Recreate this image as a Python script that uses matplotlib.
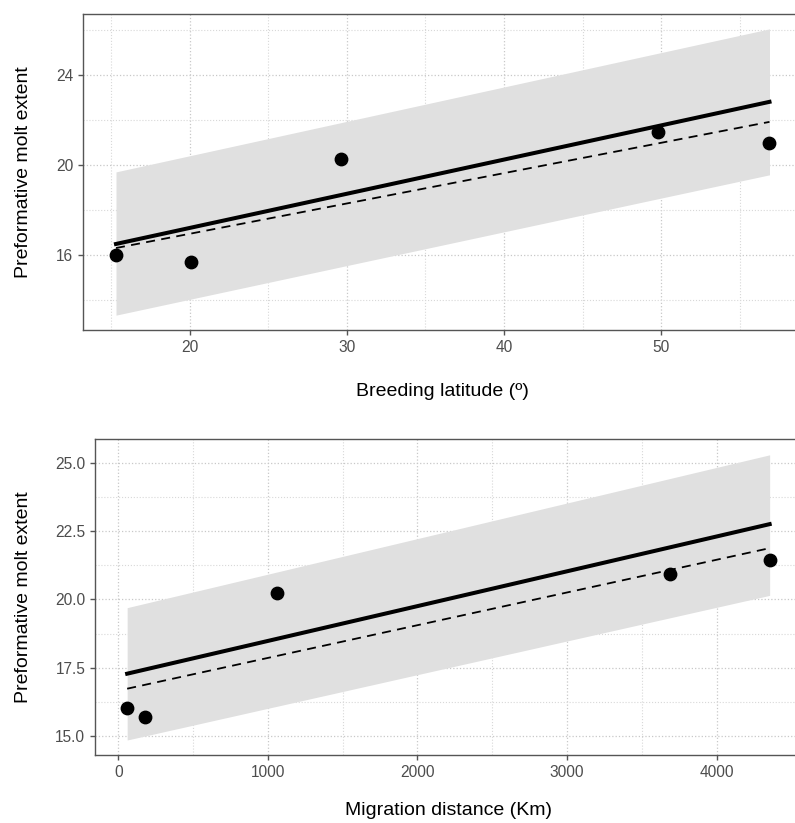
import matplotlib.pyplot as plt
import numpy as np

plt.rcParams['font.family'] = ['Liberation Sans', 'DejaVu Sans']

# breeding latitude panel
lat = [15.3, 20.1, 29.6, 49.8, 56.9]
lat_molt = [16.0, 15.69, 20.27, 21.47, 20.98]
lat_fit_x = [15.3, 56.9]
lat_solid = [16.49, 22.80]
lat_dashed = [16.31, 21.91]
lat_band_lo = [13.33, 19.56]
lat_band_hi = [19.69, 26.04]

# migration distance panel
dist = [60, 180, 1063, 3692, 4355]
dist_molt = [16.03, 15.70, 20.22, 20.95, 21.43]
dist_fit_x = [60, 4355]
dist_solid = [17.28, 22.76]
dist_dashed = [16.73, 21.88]
dist_band_lo = [14.85, 20.15]
dist_band_hi = [19.70, 25.30]

fig = plt.figure(figsize=(7.95, 8.23), dpi=100)
ax1 = fig.add_axes([0.1044, 0.599, 0.905, 0.384])
ax2 = fig.add_axes([0.1195, 0.0826, 0.890, 0.384])


def style(ax):
    ax.set_facecolor('white')
    for s in ax.spines.values():
        s.set_color('#555555')
        s.set_linewidth(1.0)
    ax.grid(which='major', color='#c8c8c8', linestyle=':', linewidth=0.9)
    ax.grid(which='minor', color='#d8d8d8', linestyle=':', linewidth=0.8)
    ax.set_axisbelow(True)
    ax.tick_params(which='major', colors='#555555', labelcolor='#4d4d4d',
                   labelsize=11.2, length=3.5, width=1)
    ax.tick_params(which='minor', length=0)


def panel(ax, x, y, fx, solid, dashed, lo, hi):
    ax.fill_between(fx, lo, hi, color='#e0e0e0', linewidth=0, zorder=1)
    ax.plot(fx, solid, color='black', linewidth=2.9, zorder=3)
    ax.plot(fx, dashed, color='black', linewidth=1.3, linestyle=(0, (5, 3.5)), zorder=3)
    ax.scatter(x, y, s=80, color='black', zorder=4)


panel(ax1, lat, lat_molt, lat_fit_x, lat_solid, lat_dashed, lat_band_lo, lat_band_hi)
style(ax1)
ax1.set_xlim(13.2, 59.0)
ax1.set_ylim(12.67, 26.7)
ax1.set_xticks([20, 30, 40, 50])
ax1.set_xticks([15, 25, 35, 45, 55], minor=True)
ax1.set_yticks([16, 20, 24])
ax1.set_yticks([14, 18, 22, 26], minor=True)
ax1.set_ylabel('Preformative molt extent', fontsize=14)
ax1.set_xlabel('Breeding latitude (º)', fontsize=14)
ax1.yaxis.set_label_coords(-0.071, 0.5)
ax1.xaxis.set_label_coords(0.5, -0.168)

panel(ax2, dist, dist_molt, dist_fit_x, dist_solid, dist_dashed, dist_band_lo, dist_band_hi)
style(ax2)
ax2.set_xlim(-155, 4575)
ax2.set_ylim(14.3, 25.88)
ax2.set_xticks([0, 1000, 2000, 3000, 4000])
ax2.set_xticks([500, 1500, 2500, 3500], minor=True)
ax2.set_yticks([15.0, 17.5, 20.0, 22.5, 25.0])
ax2.set_yticklabels(['15.0', '17.5', '20.0', '22.5', '25.0'])
ax2.set_yticks([16.25, 18.75, 21.25, 23.75], minor=True)
ax2.set_ylabel('Preformative molt extent', fontsize=14)
ax2.set_xlabel('Migration distance (Km)', fontsize=14)
ax2.yaxis.set_label_coords(-0.089, 0.5)
ax2.xaxis.set_label_coords(0.5, -0.148)

fig.savefig('out.png', dpi=100)
